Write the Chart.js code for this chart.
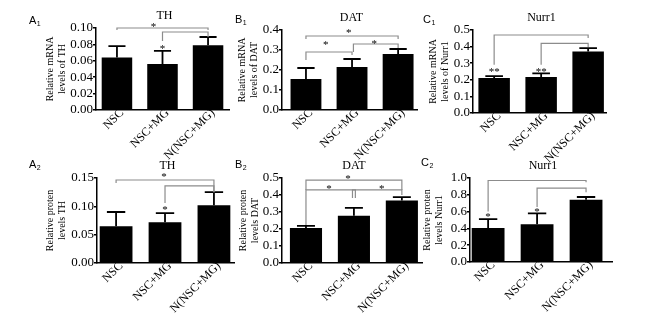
<!DOCTYPE html>
<html>
<head>
<meta charset="utf-8">
<script src="https://cdn.jsdelivr.net/npm/chart.js@4.4.0/dist/chart.umd.min.js"></script>
<style>
    html, body { margin: 0; padding: 0; background: #fff; }
    #quadro { position: relative; width: 648px; height: 325px; overflow: hidden; background: #fff; }
    #quadro canvas { position: absolute; left: 0; top: 0; }
</style>
</head>
<body>
<div id="quadro">
    <canvas id="a1" width="648" height="325"></canvas>
    <canvas id="b1" width="648" height="325"></canvas>
    <canvas id="c1" width="648" height="325"></canvas>
    <canvas id="a2" width="648" height="325"></canvas>
    <canvas id="b2" width="648" height="325"></canvas>
    <canvas id="c2" width="648" height="325"></canvas>
</div>
<script>
// Grupos (eixo x)
const grupos = ['NSC', 'NSC+MG', 'N(NSC+MG)'];

// A1 - TH mRNA
const thMrnaMedia = [0.064, 0.056, 0.079];
const thMrnaErro = [0.014, 0.016, 0.010];
const thMrnaTicks = [0, 0.02, 0.04, 0.06, 0.08, 0.10];
const thMrnaRotulos = ['0.00', '0.02', '0.04', '0.06', '0.08', '0.10'];
// chaves: [de, ate, altura, fim da perna esq., fim da perna dir.]
const thMrnaChaves = [[0, 2, 0.100, 0.0976, 0.0976], [1, 2, 0.0951, 0.084, 0.089]];
const thMrnaAst = [[0.8, 0.1037, '*'], [1, 0.0768, '*']];

// B1 - DAT mRNA
const datMrnaMedia = [0.155, 0.215, 0.28];
const datMrnaErro = [0.055, 0.04, 0.025];
const datMrnaTicks = [0, 0.1, 0.2, 0.3, 0.4];
const datMrnaRotulos = ['0.0', '0.1', '0.2', '0.3', '0.4'];
const datMrnaChaves = [[0, 2, 0.37, 0.355, 0.355], [0, 1, 0.29, 0.25, 0.275], [1.03, 2, 0.33, 0.29, 0.31]];
const datMrnaAst = [[0.93, 0.395, '*'], [0.43, 0.335, '*'], [1.48, 0.34, '*']];

// C1 - Nurr1 mRNA
const nurrMrnaMedia = [0.211, 0.217, 0.37];
const nurrMrnaErro = [0.011, 0.022, 0.021];
const nurrMrnaTicks = [0, 0.1, 0.2, 0.3, 0.4, 0.5];
const nurrMrnaRotulos = ['0.0', '0.1', '0.2', '0.3', '0.4', '0.5'];
const nurrMrnaChaves = [[0, 2, 0.47, 0.29, 0.452], [1, 2, 0.42, 0.29, 0.398]];
const nurrMrnaAst = [[0, 0.26, '**'], [1, 0.26, '**']];

// A2 - TH proteina
const thProtMedia = [0.065, 0.072, 0.102];
const thProtErro = [0.025, 0.016, 0.023];
const thProtTicks = [0, 0.05, 0.10, 0.15];
const thProtRotulos = ['0.00', '0.05', '0.10', '0.15'];
const thProtChaves = [[0, 2, 0.1465, 0.141, 0.125], [1, 2, 0.136, 0.106, 0.125]];
const thProtAst = [[0.98, 0.155, '*'], [1, 0.097, '*']];

// B2 - DAT proteina
const datProtMedia = [0.206, 0.278, 0.368];
const datProtErro = [0.012, 0.046, 0.02];
const datProtTicks = [0, 0.1, 0.2, 0.3, 0.4, 0.5];
const datProtRotulos = ['0.0', '0.1', '0.2', '0.3', '0.4', '0.5'];
const datProtChaves = [[0, 2, 0.488, 0.43, 0.43], [0, 2, 0.43, 0.224, 0.40], [0.97, 1.03, 0.43, 0.382, 0.382]];
const datProtAst = [[0.875, 0.506, '*'], [0.48, 0.447, '*'], [1.58, 0.447, '*']];

// C2 - Nurr1 proteina
const nurrProtMedia = [0.405, 0.45, 0.74];
const nurrProtErro = [0.105, 0.13, 0.034];
const nurrProtTicks = [0, 0.2, 0.4, 0.6, 0.8, 1.0];
const nurrProtRotulos = ['0.0', '0.2', '0.4', '0.6', '0.8', '1.0'];
const nurrProtChaves = [[0, 2, 0.97, 0.6, 0.95], [1, 2, 0.88, 0.655, 0.83]];
const nurrProtAst = [[0, 0.555, '*'], [1, 0.62, '*']];

const SERIF = "'Liberation Serif', 'Times New Roman', serif";
const SANS = "'Liberation Sans', Arial, sans-serif";

// Paineis: dados + posicao de cada grafico na pagina
const paineis = [
    { id: 'a1', letra: 'A', sub: '1', titulo: 'TH', eixoY: ['Relative mRNA', 'levels of TH'],
      media: thMrnaMedia, erro: thMrnaErro, ticks: thMrnaTicks, rotulos: thMrnaRotulos, chaves: thMrnaChaves, ast: thMrnaAst,
      area: [96, 229, 28, 110], tituloX: 50, rotulo: [29, 21], xLim: [-0.46, 2.46] },
    { id: 'b1', letra: 'B', sub: '1', titulo: 'DAT', eixoY: ['Relative mRNA', 'levels of DAT'],
      media: datMrnaMedia, erro: datMrnaErro, ticks: datMrnaTicks, rotulos: datMrnaRotulos, chaves: datMrnaChaves, ast: datMrnaAst,
      area: [282, 417, 30, 110], tituloX: 242, rotulo: [235, 20], xLim: [-0.52, 2.41] },
    { id: 'c1', letra: 'C', sub: '1', titulo: 'Nurr1', eixoY: ['Relative mRNA', 'levels of Nurr1'],
      media: nurrMrnaMedia, erro: nurrMrnaErro, ticks: nurrMrnaTicks, rotulos: nurrMrnaRotulos, chaves: nurrMrnaChaves, ast: nurrMrnaAst,
      area: [473, 606, 30, 113], tituloX: 433, rotulo: [423, 20], xLim: [-0.45, 2.38] },
    { id: 'a2', letra: 'A', sub: '2', titulo: 'TH', eixoY: ['Relative proten', 'levels TH'],
      media: thProtMedia, erro: thProtErro, ticks: thProtTicks, rotulos: thProtRotulos, chaves: thProtChaves, ast: thProtAst,
      area: [97, 234, 178, 263], tituloX: 50, rotulo: [29, 165], xLim: [-0.39, 2.41] },
    { id: 'b2', letra: 'B', sub: '2', titulo: 'DAT', eixoY: ['Relative proten', 'levels DAT'],
      media: datProtMedia, erro: datProtErro, ticks: datProtTicks, rotulos: datProtRotulos, chaves: datProtChaves, ast: datProtAst,
      area: [282, 422, 178, 263], tituloX: 243, rotulo: [235, 165], xLim: [-0.5, 2.42] },
    { id: 'c2', letra: 'C', sub: '2', titulo: 'Nurr1', eixoY: ['Relative proten', 'levels Nurr1'],
      media: nurrProtMedia, erro: nurrProtErro, ticks: nurrProtTicks, rotulos: nurrProtRotulos, chaves: nurrProtChaves, ast: nurrProtAst,
      area: [470, 612, 178, 262], tituloX: 427, rotulo: [421, 163], xLim: [-0.37, 2.53] }
];

// Barras de erro, chaves de significancia, asteriscos, titulo e letra do painel
const marcasPlugin = {
    id: 'marcas',
    afterDatasetsDraw(chart, args, opts) {
        const p = opts.painel;
        const { ctx, chartArea } = chart;
        const x = chart.scales.x;
        const y = chart.scales.y;
        const meta = chart.getDatasetMeta(0);
        ctx.save();

        ctx.strokeStyle = '#000';
        ctx.lineWidth = 1.8;
        meta.data.forEach((bar, i) => {
            const topo = y.getPixelForValue(p.media[i] + p.erro[i]);
            const meia = bar.width * 0.28;
            ctx.beginPath();
            ctx.moveTo(bar.x, bar.y);
            ctx.lineTo(bar.x, topo);
            ctx.moveTo(bar.x - meia, topo);
            ctx.lineTo(bar.x + meia, topo);
            ctx.stroke();
        });

        ctx.strokeStyle = '#8c8c8c';
        ctx.lineWidth = 1.2;
        p.chaves.forEach(([x1, x2, alt, fimE, fimD]) => {
            const px1 = x.getPixelForValue(x1);
            const px2 = x.getPixelForValue(x2);
            ctx.beginPath();
            ctx.moveTo(px1, y.getPixelForValue(fimE));
            ctx.lineTo(px1, y.getPixelForValue(alt));
            ctx.lineTo(px2, y.getPixelForValue(alt));
            ctx.lineTo(px2, y.getPixelForValue(fimD));
            ctx.stroke();
        });

        ctx.fillStyle = '#000';
        ctx.font = '11px ' + SERIF;
        ctx.textAlign = 'center';
        ctx.textBaseline = 'alphabetic';
        p.ast.forEach(([ax, ay, txt]) => {
            ctx.fillText(txt, x.getPixelForValue(ax), y.getPixelForValue(ay) + 5);
        });

        ctx.font = '12px ' + SERIF;
        ctx.textBaseline = 'middle';
        ctx.fillText(p.titulo, (chartArea.left + chartArea.right) / 2 + 2, chartArea.top - 12);

        ctx.textAlign = 'left';
        ctx.font = '11px ' + SANS;
        ctx.fillText(p.letra, p.rotulo[0], p.rotulo[1]);
        const w = ctx.measureText(p.letra).width;
        ctx.font = '7px ' + SANS;
        ctx.fillText(p.sub, p.rotulo[0] + w + 0.5, p.rotulo[1] + 3);

        ctx.restore();
    }
};

const criarGrafico = (p) => {
    const [l, r, t, b] = p.area;
    const padE = p.tituloX - 6;
    const alturaX = 60;
    new Chart(document.getElementById(p.id), {
        type: 'bar',
        data: {
            datasets: [{
                data: p.media.map((v, i) => ({ x: i, y: v })),
                backgroundColor: '#000',
                borderWidth: 0,
                categoryPercentage: 1,
                barPercentage: 0.67
            }]
        },
        options: {
            responsive: false,
            animation: false,
            layout: { padding: { left: padE, right: 648 - r, top: t, bottom: 325 - b - alturaX } },
            plugins: {
                legend: { display: false },
                tooltip: { enabled: false },
                marcas: { painel: p }
            },
            scales: {
                x: {
                    type: 'linear',
                    offset: false,
                    min: p.xLim[0],
                    max: p.xLim[1],
                    grid: { display: false, drawTicks: false },
                    border: { display: true, color: '#000', width: 1.5 },
                    afterBuildTicks: (s) => { s.ticks = grupos.map((g, i) => ({ value: i })); },
                    afterFit: (s) => { s.height = alturaX; },
                    ticks: {
                        autoSkip: false,
                        minRotation: 45,
                        maxRotation: 45,
                        padding: -4,
                        labelOffset: 5,
                        color: '#000',
                        font: { family: SERIF, size: 12 },
                        callback: (v, i) => grupos[i]
                    }
                },
                y: {
                    min: p.ticks[0],
                    max: p.ticks[p.ticks.length - 1],
                    afterBuildTicks: (s) => { s.ticks = p.ticks.map(v => ({ value: v })); },
                    afterFit: (s) => { s.width = l - padE; },
                    grid: { display: true, drawOnChartArea: false, drawTicks: true, tickLength: 3, color: '#000', lineWidth: 1.5 },
                    border: { display: true, color: '#000', width: 1.5 },
                    title: {
                        display: true,
                        text: p.eixoY,
                        color: '#000',
                        padding: 0,
                        font: { family: SERIF, size: 10, lineHeight: 1.2 }
                    },
                    ticks: {
                        autoSkip: false,
                        padding: 0,
                        color: '#000',
                        font: { family: SERIF, size: 13 },
                        callback: (v, i) => p.rotulos[i]
                    }
                }
            }
        },
        plugins: [marcasPlugin]
    });
};

paineis.forEach(criarGrafico);
</script>
</body>
</html>
